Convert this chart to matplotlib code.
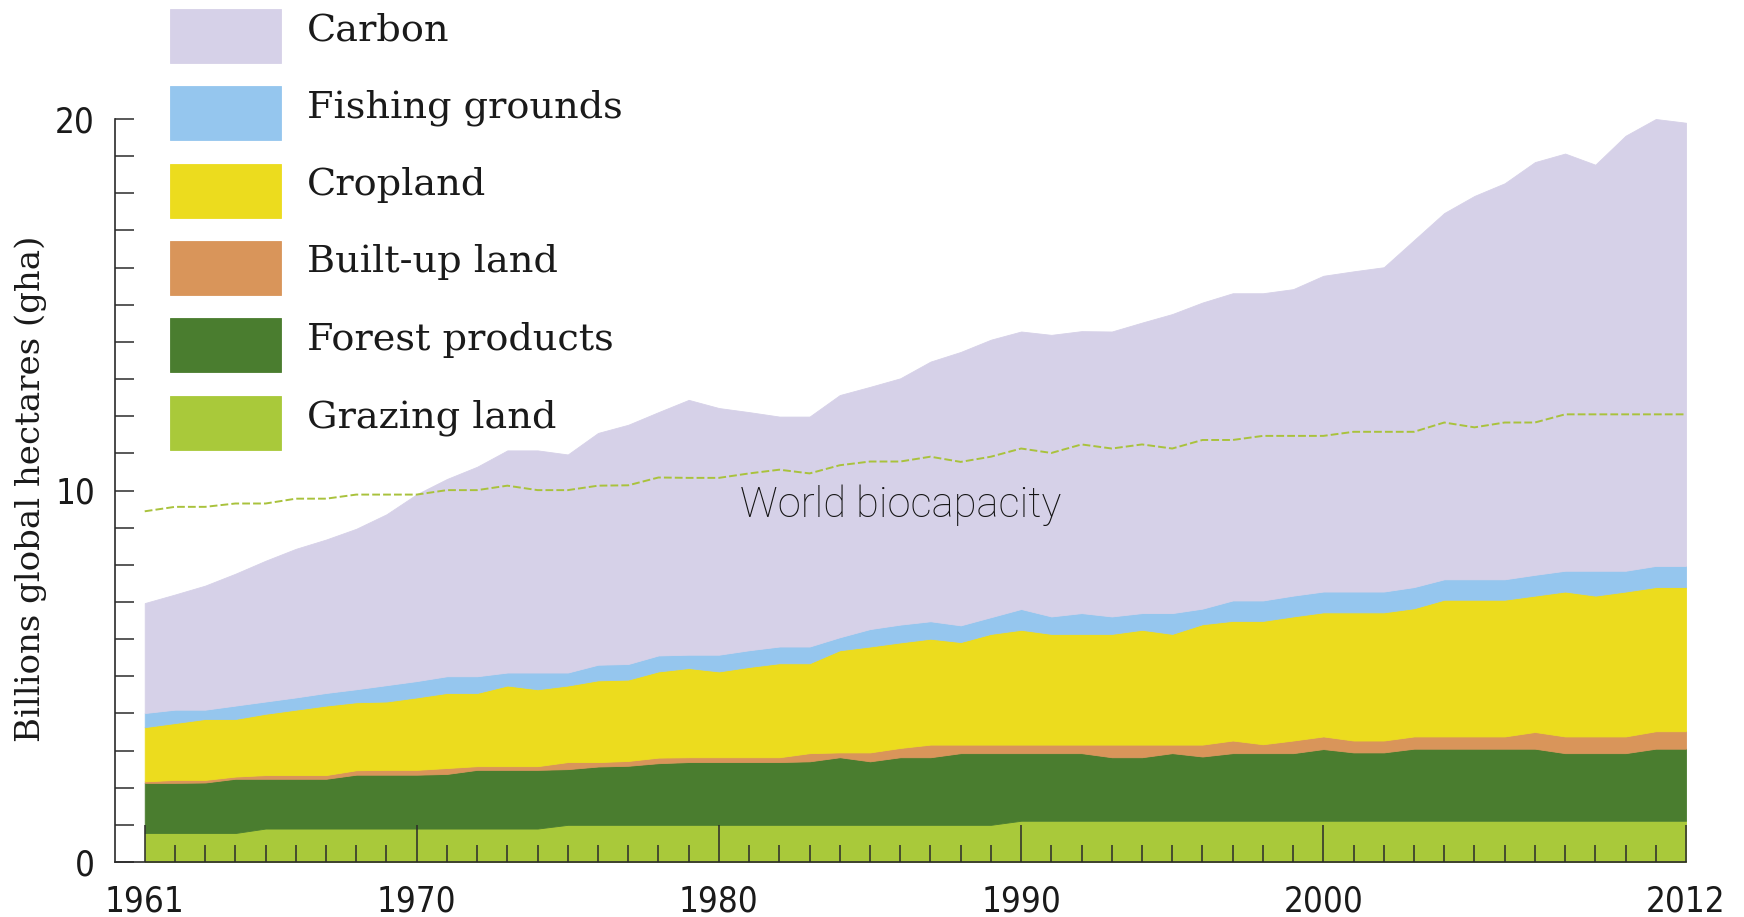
import numpy as np
import matplotlib
matplotlib.use('Agg')
import matplotlib.pyplot as plt
from matplotlib import font_manager
from matplotlib.transforms import Affine2D

# Pegada ecológica mundial por componente, 1961-2012 (bilhões de gha)
years = list(range(1961, 2013))

grazing = [0.78, 0.78, 0.78, 0.78, 0.90, 0.90, 0.90, 0.90, 0.90, 0.90,
           0.90, 0.90, 0.90, 0.90, 1.00, 1.00, 1.00, 1.00, 1.00, 1.00,
           1.00, 1.00, 1.00, 1.00, 1.00, 1.00, 1.00, 1.00, 1.00, 1.11,
           1.11, 1.11, 1.11, 1.11, 1.11, 1.11, 1.11, 1.11, 1.11, 1.11,
           1.11, 1.11, 1.11, 1.11, 1.11, 1.11, 1.11, 1.11, 1.11, 1.11,
           1.11, 1.11]
forest = [1.35, 1.35, 1.36, 1.46, 1.34, 1.34, 1.34, 1.45, 1.45, 1.45,
          1.47, 1.58, 1.58, 1.58, 1.50, 1.57, 1.59, 1.66, 1.69, 1.69,
          1.69, 1.69, 1.71, 1.82, 1.71, 1.82, 1.82, 1.93, 1.93, 1.82,
          1.82, 1.82, 1.71, 1.71, 1.82, 1.73, 1.82, 1.82, 1.82, 1.93,
          1.84, 1.84, 1.94, 1.94, 1.94, 1.94, 1.94, 1.82, 1.82, 1.82,
          1.94, 1.94]
builtup = [0.04, 0.08, 0.07, 0.06, 0.10, 0.10, 0.10, 0.12, 0.13, 0.13,
           0.16, 0.10, 0.10, 0.10, 0.19, 0.12, 0.13, 0.15, 0.13, 0.13,
           0.13, 0.13, 0.22, 0.13, 0.24, 0.25, 0.34, 0.23, 0.23, 0.23,
           0.23, 0.23, 0.34, 0.34, 0.23, 0.32, 0.34, 0.24, 0.34, 0.34,
           0.32, 0.32, 0.33, 0.33, 0.33, 0.33, 0.45, 0.45, 0.45, 0.45,
           0.47, 0.47]
cropland = [1.46, 1.53, 1.64, 1.55, 1.65, 1.76, 1.87, 1.83, 1.84, 1.95,
            2.02, 1.97, 2.17, 2.07, 2.06, 2.20, 2.19, 2.32, 2.40, 2.31,
            2.43, 2.53, 2.42, 2.75, 2.85, 2.84, 2.85, 2.76, 2.98, 3.09,
            2.98, 2.98, 2.98, 3.09, 2.98, 3.24, 3.22, 3.32, 3.34, 3.34,
            3.45, 3.45, 3.45, 3.68, 3.68, 3.68, 3.67, 3.90, 3.79, 3.90,
            3.88, 3.88]
fishing = [0.38, 0.36, 0.25, 0.36, 0.33, 0.33, 0.34, 0.35, 0.44, 0.44,
           0.45, 0.45, 0.35, 0.45, 0.35, 0.42, 0.42, 0.43, 0.36, 0.45,
           0.45, 0.45, 0.45, 0.35, 0.47, 0.48, 0.47, 0.45, 0.45, 0.56,
           0.47, 0.56, 0.47, 0.45, 0.56, 0.42, 0.55, 0.55, 0.56, 0.56,
           0.56, 0.56, 0.57, 0.55, 0.55, 0.55, 0.56, 0.56, 0.67, 0.56,
           0.57, 0.57]
carbon = [2.96, 3.10, 3.34, 3.55, 3.79, 4.00, 4.13, 4.32, 4.60, 5.03,
          5.31, 5.64, 5.98, 5.98, 5.87, 6.24, 6.44, 6.55, 6.86, 6.64,
          6.41, 6.19, 6.19, 6.52, 6.52, 6.63, 6.99, 7.36, 7.47, 7.47,
          7.58, 7.59, 7.67, 7.82, 8.05, 8.24, 8.27, 8.27, 8.25, 8.50,
          8.62, 8.73, 9.34, 9.86, 10.32, 10.66, 11.11, 11.23, 10.93, 11.71,
          12.03, 11.93]
biocapacity = [9.44, 9.56, 9.56, 9.65, 9.65, 9.78, 9.78, 9.89, 9.89, 9.89,
               10.01, 10.01, 10.13, 10.01, 10.01, 10.13, 10.14, 10.35, 10.34, 10.34,
               10.46, 10.56, 10.46, 10.68, 10.78, 10.78, 10.91, 10.77, 10.91, 11.13,
               11.01, 11.24, 11.13, 11.24, 11.13, 11.36, 11.36, 11.47, 11.47, 11.47,
               11.58, 11.58, 11.58, 11.83, 11.70, 11.83, 11.83, 12.05, 12.05, 12.05,
               12.05, 12.05]

labels = ['Grazing land', 'Forest products', 'Built-up land', 'Cropland',
          'Fishing grounds', 'Carbon']
colors = ['#a9c93a', '#4a7d2f', '#d9955a', '#ecdc1e', '#95c6ee', '#d6d1e8']
major_years = [1961, 1970, 1980, 1990, 2000, 2012]

serif_font = ['DejaVu Serif']
dark = '#2b2b2b'

# fonte estreita para os números dos eixos (usa a que estiver instalada)
fonts = font_manager.fontManager.ttflist
names = {f.name for f in fonts}
if 'Liberation Sans Narrow' in names:
    tick_family, tick_stretch, tick_size = 'Liberation Sans Narrow', 'normal', 27
elif any(f.name == 'DejaVu Sans' and f.stretch == 'condensed' for f in fonts):
    tick_family, tick_stretch, tick_size = 'DejaVu Sans', 'condensed', 25
else:
    tick_family, tick_stretch, tick_size = 'Liberation Sans', 'normal', 24

fig = plt.figure(figsize=(17.44, 9.17), dpi=100)
ax = fig.add_axes([114.5 / 1744, 1 - 862 / 917, (1686 - 114.5) / 1744, 862 / 917])

polys = ax.stackplot(years, grazing, forest, builtup, cropland, fishing, carbon,
                     colors=colors, labels=labels, edgecolor='face', linewidth=0.6)

# Linha da biocapacidade mundial (tracejada)
ax.plot(years, biocapacity, color='#a9c23c', lw=1.4, ls=(0, (4, 1.6)))
ax.text(1986.0, 9.6, 'World biocapacity', ha='center', va='center',
        fontsize=30, family=['Roboto', 'DejaVu Sans'], fontweight='light', color='#141414')

# Eixos
ax.set_xlim(1960, 2012)
ax.set_ylim(0, 862 / 37.15)
for s in ['top', 'right']:
    ax.spines[s].set_visible(False)
ax.spines['left'].set_bounds(0, 20)
for s in ['left', 'bottom']:
    ax.spines[s].set_color(dark)
    ax.spines[s].set_linewidth(1.2)

ax.set_xticks(major_years)
ax.set_xticks(range(1962, 2012), minor=True)
ax.set_yticks([0, 10, 20])
ax.set_yticks(range(0, 21), minor=True)
ax.tick_params(axis='x', which='major', direction='in', length=26.5, width=1.1,
               color=dark, pad=16)
ax.tick_params(axis='x', which='minor', direction='in', length=12.2, width=1.1, color=dark)
ax.tick_params(axis='y', which='both', direction='in', length=13.7, width=1.1,
               color=dark, pad=14)
for lbl in ax.get_xticklabels() + ax.get_yticklabels():
    lbl.set_fontfamily(tick_family)
    lbl.set_fontstretch(tick_stretch)
    lbl.set_fontsize(tick_size)
    lbl.set_color('#1a1a1a')

fig.text(31 / 1744, 1 - 489 / 917, 'Billions global hectares (gha)', rotation=90,
         ha='center', va='center', fontsize=24.5, family=serif_font, color='#1a1a1a')

# Legenda (ordem invertida: Carbon em cima)
leg = ax.legend(polys[::-1], labels[::-1], loc='upper left',
                bbox_to_anchor=(170 / 1744, 1 - 9 / 917), bbox_transform=fig.transFigure,
                frameon=False, prop={'family': serif_font, 'size': 27.5},
                handlelength=2.9, handleheight=1.80, labelspacing=0.61,
                handletextpad=0.68, borderpad=0, borderaxespad=0)
for t in leg.get_texts():
    t.set_color('#1a1a1a')
    # sobe um pouco o texto em relação ao quadrado de cor
    t.set_transform(t.get_transform() + Affine2D().translate(0, 8))

fig.savefig('out.png', dpi=100)
